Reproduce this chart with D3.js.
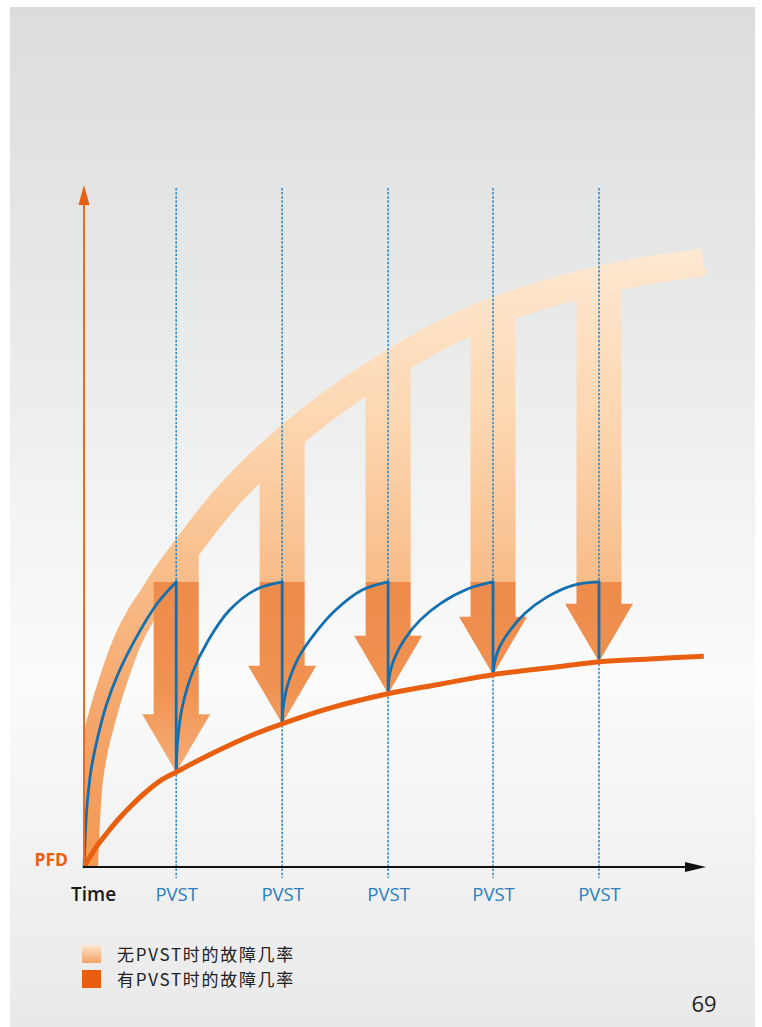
<!DOCTYPE html>
<html>
<head>
<meta charset="utf-8">
<script src="https://cdn.jsdelivr.net/npm/d3@7"></script>
<style>
body{margin:0;background:#fff;}
svg{display:block;}
</style>
</head>
<body>
<div class="canvas"></div>
<script>
// ---- data (time in test intervals, PFD as share of axis height)
const pvstTimes = [0.87, 1.87, 2.87, 3.86, 4.86];
const pvstLabels = ['PVST', 'PVST', 'PVST', 'PVST', 'PVST'];
const peakPfd = 0.418;
const troughPfd = [0.139, 0.210, 0.254, 0.282, 0.301];

// PFD without PVST (wide light band)
const noPvst = [
  [0, 0], [0.019, 0.069], [0.047, 0.128], [0.094, 0.172], [0.151, 0.208],
  [0.208, 0.240], [0.302, 0.286], [0.415, 0.333], [0.528, 0.367], [0.642, 0.394],
  [0.764, 0.424], [0.906, 0.455], [1.047, 0.484], [1.208, 0.516], [1.377, 0.547],
  [1.660, 0.592], [2.038, 0.644], [2.509, 0.699], [2.868, 0.735], [3.358, 0.779],
  [3.858, 0.814], [4.491, 0.846], [5.151, 0.870], [5.849, 0.887]
];

// PFD with PVST (orange line)
const withPvst = [
  [0, 0], [0.057, 0.015], [0.123, 0.031], [0.208, 0.048], [0.302, 0.066],
  [0.434, 0.088], [0.585, 0.110], [0.736, 0.128], [0.868, 0.139], [1.000, 0.150],
  [1.189, 0.165], [1.377, 0.179], [1.613, 0.195], [1.868, 0.210], [2.321, 0.233],
  [2.868, 0.254], [3.358, 0.268], [3.858, 0.282], [4.491, 0.294], [4.868, 0.301],
  [5.340, 0.305], [5.849, 0.309]
];

// rising parts of the sawtooth (blue)
const sawRise = [
  [[0, 0], [0.014, 0.054], [0.033, 0.098], [0.066, 0.142], [0.123, 0.186], [0.208, 0.236], [0.321, 0.283], [0.491, 0.336], [0.689, 0.386], [0.87, 0.418]],
  [[0.87, 0.139], [0.884, 0.186], [0.927, 0.234], [1.021, 0.284], [1.172, 0.332], [1.37, 0.376], [1.625, 0.407], [1.87, 0.418]],
  [[1.87, 0.210], [1.884, 0.239], [1.927, 0.270], [2.021, 0.306], [2.172, 0.341], [2.37, 0.376], [2.625, 0.406], [2.87, 0.418]],
  [[2.87, 0.254], [2.884, 0.282], [2.927, 0.305], [3.021, 0.333], [3.172, 0.362], [3.37, 0.387], [3.625, 0.408], [3.86, 0.418]],
  [[3.86, 0.282], [3.874, 0.300], [3.917, 0.321], [4.011, 0.345], [4.162, 0.372], [4.36, 0.395], [4.615, 0.413], [4.86, 0.418]]
];

const legendLabels = ['无PVST时的故障几率', '有PVST时的故障几率'];
const axisLabels = {x: 'Time', y: 'PFD'};
const pageNumber = '69';

// ---- layout
const dims = {width: 762, height: 1027};
const latin = '"Open Sans", "Noto Sans", sans-serif';
const cjk = '"Noto Sans CJK SC", "Noto Sans", sans-serif';

const svg = d3.select('.canvas')
  .append('svg')
  .attr('width', dims.width)
  .attr('height', dims.height);

const defs = svg.append('defs');

const x = d3.scaleLinear().domain([0, 5.87]).range([84, 706]);
const y = d3.scaleLinear().domain([0, 1]).range([867, 185]);

// gradients
const bgGrad = defs.append('linearGradient')
  .attr('id', 'bgGrad').attr('x1', 0).attr('x2', 0).attr('y1', 0).attr('y2', 1);
[[0, '#dcdcdd'], [0.3, '#e8e9e9'], [0.66, '#fbfbfb'], [1, '#e9e9e9']].forEach(s =>
  bgGrad.append('stop').attr('offset', s[0]).attr('stop-color', s[1]));

const lightGrad = defs.append('linearGradient')
  .attr('id', 'lightGrad').attr('gradientUnits', 'userSpaceOnUse')
  .attr('x1', 0).attr('x2', 0).attr('y1', 245).attr('y2', y(0));
[[0, '#fee9d3'], [0.3, '#fcd5ae'], [0.54, '#f8bc88'], [0.75, '#f5a76c'], [1, '#f39752']].forEach(s =>
  lightGrad.append('stop').attr('offset', s[0]).attr('stop-color', s[1]));

const darkGrad = defs.append('linearGradient')
  .attr('id', 'darkGrad').attr('gradientUnits', 'userSpaceOnUse')
  .attr('x1', 0).attr('x2', 0).attr('y1', y(peakPfd)).attr('y2', y(0.13));
[[0, '#ee8b4b'], [0.55, '#f09352'], [1, '#f6b07b']].forEach(s =>
  darkGrad.append('stop').attr('offset', s[0]).attr('stop-color', s[1]));

const legGrad = defs.append('linearGradient')
  .attr('id', 'legGrad').attr('x1', 0).attr('x2', 0).attr('y1', 0).attr('y2', 1);
[[0, '#fde6cd'], [1, '#f4a264']].forEach(s =>
  legGrad.append('stop').attr('offset', s[0]).attr('stop-color', s[1]));

// clips
defs.append('clipPath').attr('id', 'plotClip')
  .append('rect')
  .attr('x', x(0)).attr('y', 0)
  .attr('width', dims.width - x(0)).attr('height', y(0));

const curve = d3.curveCatmullRom.alpha(0.5);

const line = d3.line()
  .x(d => x(d[0]))
  .y(d => y(d[1]))
  .curve(curve);

const underBand = d3.area()
  .x(d => x(d[0]))
  .y0(y(0))
  .y1(d => y(d[1]))
  .curve(curve);

defs.append('clipPath').attr('id', 'bandClip')
  .append('path').attr('d', underBand(noPvst));

// background panel
svg.append('rect')
  .attr('x', 10).attr('y', 7)
  .attr('width', 745).attr('height', dims.height - 7)
  .attr('fill', 'url(#bgGrad)');

const graph = svg.append('g');

// band without PVST
graph.append('path')
  .attr('d', line(noPvst))
  .attr('fill', 'none')
  .attr('stroke', 'url(#lightGrad)')
  .attr('stroke-width', 28)
  .attr('clip-path', 'url(#plotClip)');

// arrows
const stemW = 45, headW = 68, headH = 58;

graph.selectAll('.stem')
  .data(pvstTimes)
  .enter()
  .append('rect')
  .attr('class', 'stem')
  .attr('x', d => x(d) - stemW / 2)
  .attr('y', y(1))
  .attr('width', stemW)
  .attr('height', y(peakPfd) - y(1) + 1)
  .attr('fill', 'url(#lightGrad)')
  .attr('clip-path', 'url(#bandClip)');

graph.selectAll('.arrow')
  .data(pvstTimes)
  .enter()
  .append('path')
  .attr('class', 'arrow')
  .attr('fill', 'url(#darkGrad)')
  .attr('d', (d, i) => {
    const cx = x(d), top = y(peakPfd), tip = y(troughPfd[i]);
    const hb = tip - headH;
    return d3.line()([
      [cx - stemW / 2, top], [cx + stemW / 2, top], [cx + stemW / 2, hb],
      [cx + headW / 2, hb], [cx, tip], [cx - headW / 2, hb], [cx - stemW / 2, hb]
    ]) + 'Z';
  });

// dotted test lines
graph.selectAll('.pvst-line')
  .data(pvstTimes)
  .enter()
  .append('line')
  .attr('class', 'pvst-line')
  .attr('x1', d => x(d)).attr('x2', d => x(d))
  .attr('y1', y(1) + 3).attr('y2', y(0) + 11)
  .attr('stroke', '#2f83c0')
  .attr('stroke-width', 1.5)
  .attr('stroke-dasharray', '2.5,1.6');

// blue sawtooth
graph.selectAll('.rise')
  .data(sawRise)
  .enter()
  .append('path')
  .attr('class', 'rise')
  .attr('d', line)
  .attr('fill', 'none')
  .attr('stroke', '#136faf')
  .attr('stroke-width', 2.8)
  .attr('stroke-linecap', 'round');

graph.selectAll('.drop')
  .data(pvstTimes)
  .enter()
  .append('line')
  .attr('class', 'drop')
  .attr('x1', d => x(d)).attr('x2', d => x(d))
  .attr('y1', y(peakPfd)).attr('y2', (d, i) => y(troughPfd[i]))
  .attr('stroke', '#136faf')
  .attr('stroke-width', 2.8)
  .attr('stroke-linecap', 'round');

// with PVST line
graph.append('path')
  .attr('d', line(withPvst))
  .attr('fill', 'none')
  .attr('stroke', '#e8600f')
  .attr('stroke-width', 5)
  .attr('clip-path', 'url(#plotClip)');

// axes
graph.append('line')
  .attr('x1', x(0)).attr('x2', x(0))
  .attr('y1', y(0)).attr('y2', y(1) + 16)
  .attr('stroke', '#ec6c23')
  .attr('stroke-width', 2);
graph.append('path')
  .attr('d', d3.line()([[x(0), y(1)], [x(0) + 5.5, y(1) + 20], [x(0) - 5.5, y(1) + 20]]) + 'Z')
  .attr('fill', '#e8600f');

graph.append('line')
  .attr('x1', x(0) - 1).attr('x2', x(5.87) - 16)
  .attr('y1', y(0)).attr('y2', y(0))
  .attr('stroke', '#111')
  .attr('stroke-width', 2);
graph.append('path')
  .attr('d', d3.line()([[x(5.87), y(0)], [x(5.87) - 21, y(0) - 5], [x(5.87) - 21, y(0) + 5]]) + 'Z')
  .attr('fill', '#111');

const xAxis = d3.axisBottom(x)
  .tickValues(pvstTimes)
  .tickFormat((d, i) => pvstLabels[i])
  .tickSize(0)
  .tickPadding(21);

const xg = graph.append('g')
  .attr('transform', `translate(0, ${y(0)})`)
  .call(xAxis);
xg.select('.domain').remove();
xg.selectAll('text')
  .attr('fill', '#2b80bd')
  .attr('font-family', latin)
  .attr('font-size', 18.5);

graph.append('text')
  .attr('x', x(0) - 13).attr('y', y(0) + 34)
  .attr('font-family', latin)
  .attr('font-weight', 600)
  .attr('font-size', 19)
  .attr('fill', '#1a1a1a')
  .text(axisLabels.x);

graph.append('text')
  .attr('x', 68).attr('y', y(0) - 1)
  .attr('text-anchor', 'end')
  .attr('font-family', latin)
  .attr('font-weight', 700)
  .attr('font-size', 17.5)
  .attr('fill', '#e8600f')
  .text(axisLabels.y);

// legend
const legend = svg.append('g').attr('transform', 'translate(82, 945)');
const legFills = ['url(#legGrad)', '#e95d0f'];
const items = legend.selectAll('.item')
  .data(legendLabels)
  .enter()
  .append('g')
  .attr('class', 'item')
  .attr('transform', (d, i) => `translate(0, ${i * 25})`);
items.append('rect')
  .attr('width', 19).attr('height', 18)
  .attr('fill', (d, i) => legFills[i]);
items.append('text')
  .attr('x', 35).attr('y', 15.5)
  .attr('font-family', cjk)
  .attr('font-size', 17)
  .attr('letter-spacing', 1.7)
  .attr('fill', '#222')
  .text(d => d);

// page number
svg.append('text')
  .attr('x', 704).attr('y', 1012)
  .attr('text-anchor', 'middle')
  .attr('font-family', latin)
  .attr('font-size', 22)
  .attr('fill', '#222')
  .text(pageNumber);
</script>
</body>
</html>
